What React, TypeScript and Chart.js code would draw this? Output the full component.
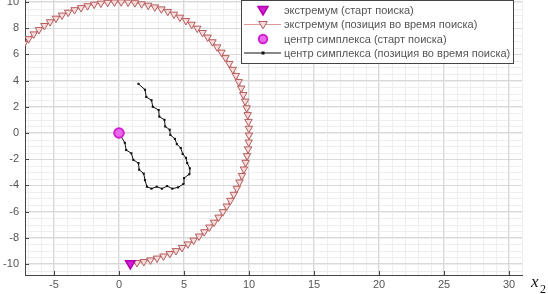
import React, { useEffect, useRef } from 'react';
import { Chart, registerables } from 'chart.js';

Chart.register(...registerables);

// ---- data ----
const X_TICKS = [-5, 0, 5, 10, 15, 20, 25, 30];
const Y_TICKS = [-10, -8, -6, -4, -2, 0, 2, 4, 6, 8, 10];
const X_RANGE = [-7.23, 31.0];
const Y_RANGE = [-10.84, 10.15];

// extremum position during the search
const EXT_X = [
  0.87, 1.39, 1.91, 2.42, 2.92, 3.42, 3.91, 4.38, 4.85, 5.30, 5.74, 6.16, 6.56, 6.95, 7.31,
  7.66, 7.99, 8.29, 8.57, 8.83, 9.06, 9.27, 9.46, 9.61, 9.74, 9.85, 9.93, 9.98, 10.0, 9.99,
  9.96, 9.90, 9.82, 9.70, 9.56, 9.40, 9.21, 8.99, 8.75, 8.48, 8.19, 7.88, 7.55, 7.19, 6.82,
  6.43, 6.02, 5.59, 5.15, 4.69, 4.23, 3.75, 3.26, 2.76, 2.25, 1.74, 1.22, 0.70, 0.17, -0.35,
  -0.87, -1.39, -1.91, -2.42, -2.92, -3.42, -3.91, -4.38, -4.85, -5.30, -5.74, -6.16, -6.56,
  -6.95, -7.31,
];
const EXT_Y = [
  -9.96, -9.90, -9.82, -9.70, -9.56, -9.40, -9.21, -8.99, -8.75, -8.48, -8.19, -7.88, -7.55,
  -7.19, -6.82, -6.43, -6.02, -5.59, -5.15, -4.69, -4.23, -3.75, -3.26, -2.76, -2.25, -1.74,
  -1.22, -0.70, -0.17, 0.35, 0.87, 1.39, 1.91, 2.42, 2.92, 3.42, 3.91, 4.38, 4.85, 5.30, 5.74,
  6.16, 6.56, 6.95, 7.31, 7.66, 7.99, 8.29, 8.57, 8.83, 9.06, 9.27, 9.46, 9.61, 9.74, 9.85,
  9.93, 9.98, 10.0, 9.99, 9.96, 9.90, 9.82, 9.70, 9.56, 9.40, 9.21, 8.99, 8.75, 8.48, 8.19,
  7.88, 7.55, 7.19, 6.82,
];

// simplex centre position during the search
const SIMPLEX_X = [
  0, 0.45, 0.55, 0.95, 1.1, 1.5, 1.55, 1.9, 2.0, 2.15, 2.5, 2.9, 3.3, 3.7, 4.1, 4.55, 4.95,
  5.0, 5.4, 5.45, 5.25, 5.15, 4.9, 4.75, 4.45, 4.3, 3.95, 3.9, 3.55, 3.5, 3.1, 3.05, 2.6, 2.5,
  2.1, 2.0, 1.5,
];
const SIMPLEX_Y = [
  0, -0.75, -1.3, -1.55, -2.05, -2.3, -2.8, -3.1, -3.6, -4.1, -4.25, -4.1, -4.25, -4.05, -4.25,
  -4.15, -3.9, -3.45, -3.15, -2.7, -2.3, -1.9, -1.6, -1.15, -0.85, -0.45, -0.15, 0.25, 0.5,
  1.0, 1.25, 1.75, 2.0, 2.5, 2.75, 3.3, 3.75,
];

const EXT_START = { x: 0.87, y: -9.96 };
const SIMPLEX_START = { x: 0, y: 0 };

const LEGEND_LABELS = [
  'экстремум (старт поиска)',
  'экстремум (позиция во время поиска)',
  'центр симплекса (старт поиска)',
  'центр симплекса (позиция во время поиска)',
];

// ---- styles ----
const MAGENTA = '#d21fd2';
const MAGENTA_EDGE = '#b000b0';
const EXT_LINE = '#de9a9a';
const EXT_EDGE = '#b35c5c';
const EXT_FILL = '#f9dcdc';
const FONT = '"Liberation Sans", Arial, sans-serif';

function drawTriangleDown(ctx: CanvasRenderingContext2D, x: number, y: number, r: number, fill: string, stroke: string, lw: number) {
  ctx.beginPath();
  ctx.moveTo(x - r, y - r * 0.7);
  ctx.lineTo(x + r, y - r * 0.7);
  ctx.lineTo(x, y + r);
  ctx.closePath();
  ctx.fillStyle = fill;
  ctx.fill();
  ctx.lineWidth = lw;
  ctx.strokeStyle = stroke;
  ctx.stroke();
}

const minorGridPlugin = {
  id: 'minorGrid',
  beforeDraw(chart: any) {
    const { ctx, chartArea, scales } = chart;
    const { left, right, top, bottom } = chartArea;
    const xs = scales.x;
    const ys = scales.y;
    ctx.save();
    ctx.strokeStyle = '#eeeeee';
    ctx.lineWidth = 1;
    for (let v = Math.ceil(xs.min); v <= xs.max; v += 1) {
      const p = Math.round(xs.getPixelForValue(v)) + 0.5;
      ctx.beginPath();
      ctx.moveTo(p, top);
      ctx.lineTo(p, bottom);
      ctx.stroke();
    }
    for (let v = Math.ceil(ys.min * 2) / 2; v <= ys.max; v += 0.5) {
      const p = Math.round(ys.getPixelForValue(v)) + 0.5;
      ctx.beginPath();
      ctx.moveTo(left, p);
      ctx.lineTo(right, p);
      ctx.stroke();
    }
    ctx.restore();
  },
  beforeDatasetsDraw(chart: any) {
    const { ctx, chartArea, scales } = chart;
    const { left, bottom } = chartArea;
    ctx.save();
    ctx.strokeStyle = '#444';
    ctx.lineWidth = 1;
    X_TICKS.forEach((v) => {
      const p = Math.round(scales.x.getPixelForValue(v)) + 0.5;
      ctx.beginPath();
      ctx.moveTo(p, bottom);
      ctx.lineTo(p, bottom - 4);
      ctx.stroke();
    });
    Y_TICKS.forEach((v) => {
      const p = Math.round(scales.y.getPixelForValue(v)) + 0.5;
      ctx.beginPath();
      ctx.moveTo(left, p);
      ctx.lineTo(left + 4, p);
      ctx.stroke();
    });
    ctx.restore();
  },
};

const legendPlugin = {
  id: 'customLegend',
  afterDraw(chart: any) {
    const ctx: CanvasRenderingContext2D = chart.ctx;
    ctx.save();
    const bx = 241.5, by = 0.5, bw = 272, bh = 63;
    ctx.fillStyle = '#ffffff';
    ctx.fillRect(bx, by, bw, bh);
    ctx.strokeStyle = '#444';
    ctx.lineWidth = 1;
    ctx.strokeRect(bx, by, bw, bh);
    const rows = [10, 24.5, 39, 53];
    const lx0 = 244, lx1 = 281, mx = 263, tx = 284;
    ctx.font = `11px ${FONT}`;
    ctx.textBaseline = 'middle';
    ctx.textAlign = 'left';
    rows.forEach((ry, i) => {
      if (i === 0) {
        drawTriangleDown(ctx, mx, ry, 5, MAGENTA, MAGENTA_EDGE, 1.5);
      } else if (i === 1) {
        ctx.strokeStyle = EXT_LINE;
        ctx.lineWidth = 1.2;
        ctx.beginPath();
        ctx.moveTo(lx0, ry);
        ctx.lineTo(lx1, ry);
        ctx.stroke();
        drawTriangleDown(ctx, mx, ry, 4.3, EXT_FILL, EXT_EDGE, 1);
      } else if (i === 2) {
        ctx.beginPath();
        ctx.arc(mx, ry, 4.2, 0, Math.PI * 2);
        ctx.fillStyle = '#e86ae8';
        ctx.fill();
        ctx.lineWidth = 2;
        ctx.strokeStyle = MAGENTA;
        ctx.stroke();
      } else {
        ctx.strokeStyle = '#111';
        ctx.lineWidth = 1;
        ctx.beginPath();
        ctx.moveTo(lx0, ry);
        ctx.lineTo(lx1, ry);
        ctx.stroke();
        ctx.fillStyle = '#111';
        ctx.fillRect(mx - 1.5, ry - 1.5, 3, 3);
      }
      ctx.fillStyle = '#555';
      ctx.fillText(LEGEND_LABELS[i], tx, ry + 0.5);
    });
    // axis label x2
    ctx.fillStyle = '#111';
    ctx.textBaseline = 'alphabetic';
    ctx.font = 'italic 17px "Liberation Serif", "DejaVu Serif", serif';
    ctx.fillText('x', 531, 287);
    ctx.font = '12px "Liberation Serif", "DejaVu Serif", serif';
    ctx.fillText('2', 540, 293);
    ctx.restore();
  },
};

export default function App() {
  const ref = useRef<HTMLCanvasElement | null>(null);

  useEffect(() => {
    document.body.style.margin = '0';
    const canvas = ref.current;
    if (!canvas) return;

    const extData = EXT_X.map((x, i) => ({ x, y: EXT_Y[i] }));
    const simData = SIMPLEX_X.map((x, i) => ({ x, y: SIMPLEX_Y[i] }));

    const fixScale = (scale: any, size: number, vertical: boolean) => {
      if (vertical) scale.width = size;
      else scale.height = size;
      scale.paddingTop = 0;
      scale.paddingBottom = 0;
      scale.paddingLeft = 0;
      scale.paddingRight = 0;
      scale._margins = { left: 0, right: 0, top: 0, bottom: 0 };
    };

    const chart = new Chart(canvas, {
      type: 'scatter',
      data: {
        datasets: [
          {
            label: LEGEND_LABELS[1],
            data: extData,
            showLine: true,
            borderColor: EXT_LINE,
            borderWidth: 1.2,
            pointStyle: 'triangle',
            rotation: 180,
            pointRadius: 4.3,
            pointBackgroundColor: EXT_FILL,
            pointBorderColor: EXT_EDGE,
            pointBorderWidth: 1,
            order: 4,
          },
          {
            label: LEGEND_LABELS[3],
            data: simData,
            showLine: true,
            borderColor: '#111',
            borderWidth: 1,
            pointStyle: 'rect',
            pointRadius: 1.5,
            pointBackgroundColor: '#111',
            pointBorderColor: '#111',
            pointBorderWidth: 0,
            order: 3,
          },
          {
            label: LEGEND_LABELS[0],
            data: [EXT_START],
            pointStyle: 'triangle',
            rotation: 180,
            pointRadius: 5.5,
            pointBackgroundColor: MAGENTA,
            pointBorderColor: MAGENTA_EDGE,
            pointBorderWidth: 1.5,
            order: 2,
          },
          {
            label: LEGEND_LABELS[2],
            data: [SIMPLEX_START],
            pointStyle: 'circle',
            pointRadius: 4.8,
            pointBackgroundColor: '#e86ae8',
            pointBorderColor: MAGENTA,
            pointBorderWidth: 2,
            order: 1,
          },
        ],
      },
      options: {
        animation: false,
        responsive: false,
        devicePixelRatio: 1,
        layout: { autoPadding: false, padding: { left: 0, right: 26, top: 0, bottom: 0 } },
        plugins: {
          legend: { display: false },
          tooltip: { enabled: false },
        },
        scales: {
          x: {
            type: 'linear',
            min: X_RANGE[0],
            max: X_RANGE[1],
            afterBuildTicks: (s: any) => {
              s.ticks = X_TICKS.map((v) => ({ value: v }));
            },
            afterFit: (s: any) => fixScale(s, 19, false),
            grid: { color: '#d9d9d9', drawTicks: false, lineWidth: 1 },
            border: { color: '#444', width: 1 },
            ticks: {
              padding: 3,
              color: '#555',
              font: { family: FONT, size: 11 },
              maxRotation: 0,
              autoSkip: false,
            },
          },
          y: {
            type: 'linear',
            min: Y_RANGE[0],
            max: Y_RANGE[1],
            afterBuildTicks: (s: any) => {
              s.ticks = Y_TICKS.map((v) => ({ value: v }));
            },
            afterFit: (s: any) => fixScale(s, 25, true),
            grid: { color: '#d9d9d9', drawTicks: false, lineWidth: 1 },
            border: { color: '#444', width: 1 },
            ticks: {
              padding: 6,
              color: '#555',
              font: { family: FONT, size: 11 },
              autoSkip: false,
            },
          },
        },
      },
      plugins: [minorGridPlugin, legendPlugin],
    } as any);

    return () => chart.destroy();
  }, []);

  return (
    <div style={{ width: 548, height: 294, position: 'relative', background: '#fff' }}>
      <canvas ref={ref} width={548} height={294} style={{ display: 'block' }} />
    </div>
  );
}
